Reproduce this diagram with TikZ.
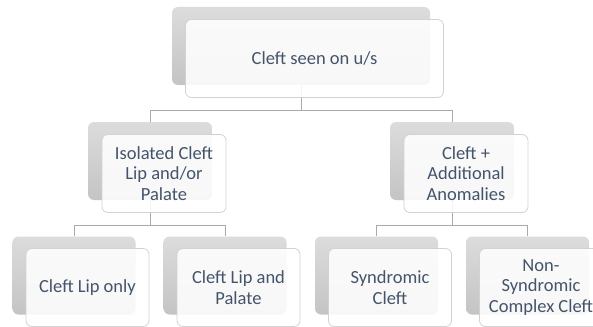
\documentclass[tikz,border=0pt]{standalone}
\usepackage{fontspec}
\setmainfont{Carlito}
\definecolor{txt}{RGB}{68,84,106}
\definecolor{gtop}{RGB}{220,220,220}
\definecolor{gbot}{RGB}{196,196,196}
\definecolor{wline}{RGB}{210,210,210}
\definecolor{cline}{RGB}{170,170,170}
\tikzset{
  gbox/.style={rounded corners=6pt, top color=gtop, bottom color=gbot, draw=none, inner sep=0pt},
  wbox/.style={rounded corners=6pt, fill=white, fill opacity=0.88, text opacity=1, draw=wline, line width=0.8pt, text=txt, align=center, inner sep=0pt, font=\fontsize{18.5pt}{20.5pt}\selectfont},
  top/.style={minimum width=258pt, minimum height=78pt},
  mid/.style={minimum width=124pt, minimum height=78pt},
  low/.style={minimum width=123pt, minimum height=78pt},
  conn/.style={draw=cline, line width=0.8pt}
}
\begin{document}
\begin{tikzpicture}[x=1pt,y=-1pt]
\useasboundingbox (0,0) rectangle (593,326);
\clip (0,0) rectangle (593,326);
\fill[white] (0,0) rectangle (593,326);
% gray back boxes
\node[gbox,top] (g0) at (301,46) {};
\node[gbox,mid] (g1) at (150,161) {};
\node[gbox,mid] (g2) at (452,161) {};
\node[gbox,low] (gA) at (74,275.5) {};
\node[gbox,low] (gB) at (225,275.5) {};
\node[gbox,low] (gC) at (376.5,275.5) {};
\node[gbox,low] (gD) at (527.5,275.5) {};
% bus coordinates
\coordinate (b0) at (0,110);
\coordinate (b1) at (0,225);
% connectors
\draw[conn] (g0.south) -- (g0.south |- b0) -| (g1.north);
\draw[conn] (g0.south |- b0) -| (g2.north);
\draw[conn] (g1.south) -- (g1.south |- b1) -| (gA.north);
\draw[conn] (g1.south |- b1) -| (gB.north);
\draw[conn] (g2.south) -- (g2.south |- b1) -| (gC.north);
\draw[conn] (g2.south |- b1) -| (gD.north);
% white front boxes
\node[wbox,top] (w0) at ([shift={(13.5,12.5)}]g0.center) {Cleft seen on u/s};
\node[wbox,mid] (w1) at ([shift={(14,12.5)}]g1.center) {Isolated Cleft\\Lip and/or\\Palate};
\node[wbox,mid] (w2) at ([shift={(14,12.5)}]g2.center) {Cleft +\\Additional\\Anomalies};
\node[wbox,low] (wA) at ([shift={(13.5,12)}]gA.center) {Cleft Lip only};
\node[wbox,low] (wB) at ([shift={(13.5,12)}]gB.center) {Cleft Lip and\\Palate};
\node[wbox,low] (wC) at ([shift={(13.5,12)}]gC.center) {Syndromic\\Cleft};
\node[wbox,low] (wD) at ([shift={(13.5,12)}]gD.center) {Non-\\Syndromic\\Complex Cleft};
\end{tikzpicture}
\end{document}
